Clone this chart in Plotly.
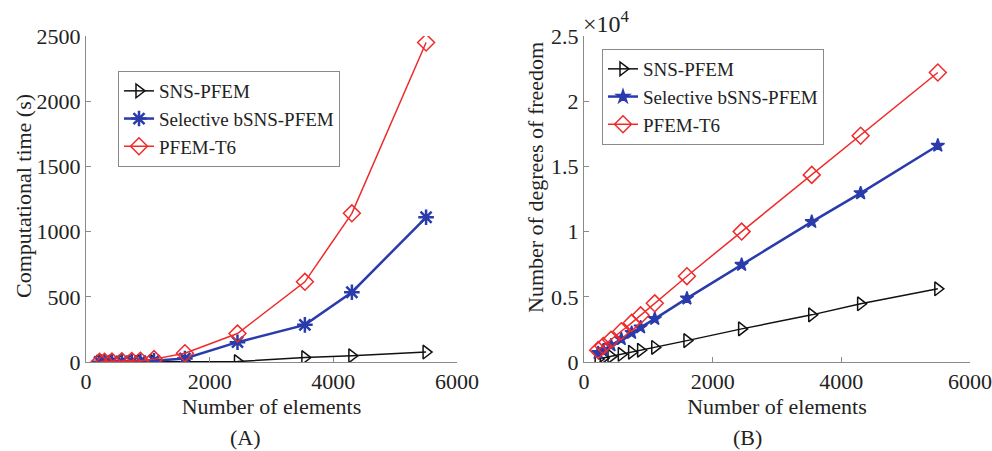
import plotly.graph_objects as go

# ---- data ----
elements = [220, 300, 420, 580, 740, 880, 1100, 1600, 2450, 3540, 4300, 5500]

time_sns = [0.2, 0.3, 0.4, 0.6, 0.8, 1.0, 1.3, 2, 3, 34, 48, 76]
time_bsns = [1, 1, 2, 3, 4, 6, 10, 27, 152, 285, 535, 1110]
time_t6 = [1, 2, 3, 5, 7, 10, 22, 67, 218, 615, 1140, 2450]

dof_sns = [230, 310, 430, 590, 750, 900, 1120, 1640, 2540, 3615, 4460, 5610]
dof_bsns = [700, 900, 1280, 1760, 2240, 2660, 3310, 4880, 7460, 10750, 12950, 16600]
dof_t6 = [910, 1220, 1700, 2360, 3000, 3580, 4500, 6580, 10000, 14350, 17350, 22200]

series_names = ["SNS-PFEM", "Selective bSNS-PFEM", "PFEM-T6"]
x_ticks = [0, 2000, 4000, 6000]
time_ticks = [0, 500, 1000, 1500, 2000, 2500]
dof_ticks = [0, 5000, 10000, 15000, 20000, 25000]
dof_tick_text = ["0", "0.5", "1", "1.5", "2", "2.5"]

BLACK = "#111111"
BLUE = "#2a3bab"
RED = "#f02a2a"
AXIS = "#8a8a8a"
TXT = "#222222"
FONT = "Liberation Serif"

W, H = 992, 451

fig = go.Figure()

# ---- panel A ----
fig.add_trace(go.Scatter(x=elements, y=time_sns, name=series_names[0], mode="lines+markers",
                         line=dict(color=BLACK, width=1.5),
                         marker=dict(symbol="triangle-right-open", size=12, color=BLACK, line=dict(width=1.5)),
                         xaxis="x", yaxis="y", legend="legend"))
fig.add_trace(go.Scatter(x=elements, y=time_bsns, name=series_names[1], mode="lines+markers",
                         line=dict(color=BLUE, width=2.5),
                         marker=dict(symbol="asterisk-open", size=13, color=BLUE, line=dict(width=2.5, color=BLUE)),
                         xaxis="x", yaxis="y", legend="legend"))
fig.add_trace(go.Scatter(x=elements, y=time_t6, name=series_names[2], mode="lines+markers",
                         line=dict(color=RED, width=1.5),
                         marker=dict(symbol="diamond-open", size=13, color=RED, line=dict(width=1.5)),
                         xaxis="x", yaxis="y", legend="legend"))

# ---- panel B ----
fig.add_trace(go.Scatter(x=elements, y=dof_sns, name=series_names[0], mode="lines+markers",
                         line=dict(color=BLACK, width=1.5),
                         marker=dict(symbol="triangle-right-open", size=12, color=BLACK, line=dict(width=1.5)),
                         xaxis="x2", yaxis="y2", legend="legend2"))
fig.add_trace(go.Scatter(x=elements, y=dof_bsns, name=series_names[1], mode="lines+markers",
                         line=dict(color=BLUE, width=2.5),
                         marker=dict(symbol="star", size=10, color=BLUE, line=dict(width=1.5, color=BLUE)),
                         xaxis="x2", yaxis="y2", legend="legend2"))
fig.add_trace(go.Scatter(x=elements, y=dof_t6, name=series_names[2], mode="lines+markers",
                         line=dict(color=RED, width=1.5),
                         marker=dict(symbol="diamond-open", size=13, color=RED, line=dict(width=1.5)),
                         xaxis="x2", yaxis="y2", legend="legend2"))

ydom = [1 - 362 / H, 1 - 36 / H]
common_x = dict(range=[0, 6000], tickvals=x_ticks, showgrid=False, zeroline=False, automargin=False,
                showline=True, linecolor=AXIS, linewidth=1, ticks="inside", ticklen=5,
                tickcolor=AXIS, tickfont=dict(family=FONT, size=22, color=TXT),
                title=dict(text="Number of elements", font=dict(family=FONT, size=22, color=TXT), standoff=2))
common_y = dict(showgrid=False, zeroline=False, showline=True, linecolor=AXIS, linewidth=1, automargin=False,
                ticks="inside", ticklen=5, tickcolor=AXIS,
                tickfont=dict(family=FONT, size=22, color=TXT))

fig.update_layout(
    width=W, height=H,
    margin=dict(l=0, r=0, t=0, b=0),
    paper_bgcolor="white", plot_bgcolor="white",
    font=dict(family=FONT, size=20, color=TXT),
    xaxis=dict(domain=[86 / W, 457 / W], anchor="y", **common_x),
    yaxis=dict(domain=ydom, anchor="x", range=[0, 2500], tickvals=time_ticks, **common_y),
    xaxis2=dict(domain=[584 / W, 970 / W], anchor="y2", **common_x),
    yaxis2=dict(domain=ydom, anchor="x2", range=[0, 25000], tickvals=dof_ticks, ticktext=dof_tick_text,
                **common_y),
    legend=dict(x=118 / W, y=1 - 71 / H, xanchor="left", yanchor="top",
                bgcolor="white", bordercolor=AXIS, borderwidth=1,
                font=dict(family=FONT, size=19, color=TXT), tracegroupgap=0, itemwidth=30),
    legend2=dict(x=602 / W, y=1 - 49 / H, xanchor="left", yanchor="top",
                 bgcolor="white", bordercolor=AXIS, borderwidth=1,
                 font=dict(family=FONT, size=19, color=TXT), tracegroupgap=0, itemwidth=30),
    showlegend=True,
    annotations=[
        dict(text="Computational time (s)", x=23 / W, y=1 - 196 / H, xref="paper", yref="paper",
             xanchor="center", yanchor="middle", textangle=-90, showarrow=False,
             font=dict(family=FONT, size=22, color=TXT)),
        dict(text="Number of degrees of freedom", x=535 / W, y=1 - 178 / H, xref="paper", yref="paper",
             xanchor="center", yanchor="middle", textangle=-90, showarrow=False,
             font=dict(family=FONT, size=22, color=TXT)),
        dict(text="×10<sup>4</sup>", x=581 / W, y=1 - 5 / H, xref="paper", yref="paper",
             xanchor="left", yanchor="top", showarrow=False, font=dict(family=FONT, size=24, color=TXT)),
        dict(text="(A)", x=245 / W, y=1 - 437 / H, xref="paper", yref="paper",
             xanchor="center", yanchor="middle", showarrow=False, font=dict(family=FONT, size=22, color=TXT)),
        dict(text="(B)", x=747 / W, y=1 - 437 / H, xref="paper", yref="paper",
             xanchor="center", yanchor="middle", showarrow=False, font=dict(family=FONT, size=22, color=TXT)),
    ],
)

fig.write_html("out.html", config={"displayModeBar": False},
               post_script="document.body.style.margin='0';document.body.style.overflow='hidden';")
